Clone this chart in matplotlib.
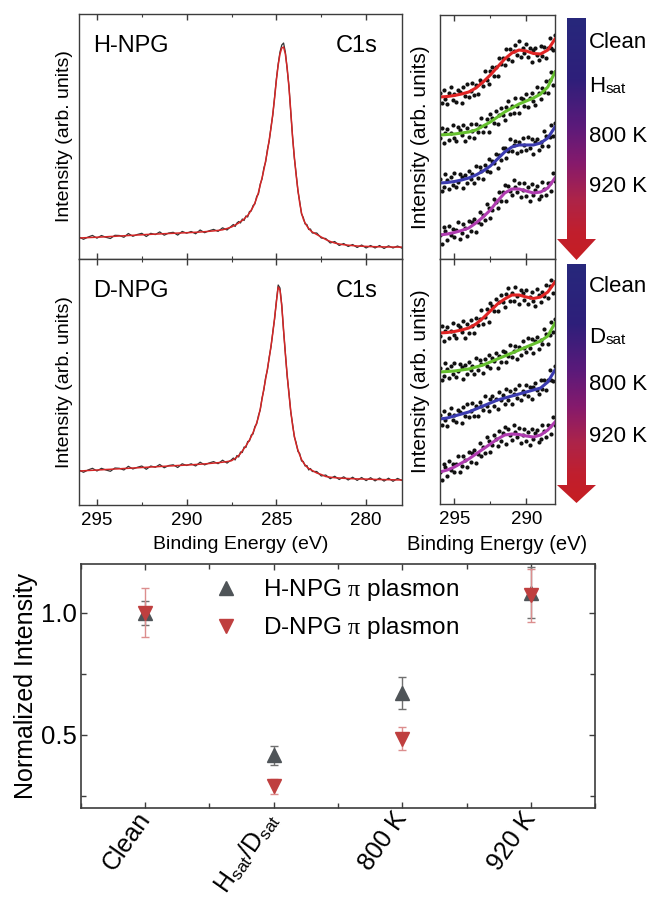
import numpy as np
import matplotlib
matplotlib.use('Agg')
import matplotlib.pyplot as plt
from matplotlib.colors import LinearSegmentedColormap
from matplotlib.patches import Polygon
from matplotlib.ticker import MultipleLocator

plt.rcParams['font.family'] = ['Liberation Sans', 'DejaVu Sans']
plt.rcParams['mathtext.fontset'] = 'custom'
plt.rcParams['mathtext.rm'] = 'Liberation Serif'
plt.rcParams['mathtext.it'] = 'Liberation Serif:italic'
plt.rcParams['mathtext.sf'] = 'Liberation Sans'

# ---------------- C1s spectra (arb. units) ----------------
be_c1s = np.concatenate([np.linspace(296.0, 287.5, 35),
                         np.linspace(287.4, 283.0, 45),
                         np.linspace(282.75, 278.0, 20)])

h_c1s_fit = [21, 21.2, 21.4, 21.6, 21.8, 22, 22.2, 22.5, 22.7, 23,
             23.2, 23.5, 23.7, 24, 24.2, 24.5, 24.7, 24.9, 25.1, 25.3,
             25.5, 25.7, 25.9, 26.1, 26.3, 26.5, 26.7, 27, 27.3, 27.7,
             28.1, 28.6, 29.2, 30.5, 32,
             33, 34, 35, 36, 37.5, 38.5, 40, 42, 43.5, 46,
             49, 52, 56, 61, 66.5, 74, 81, 89, 98, 108,
             119, 131, 145, 161, 179, 194, 205, 211, 212, 205,
             191, 172, 148, 122, 102, 84, 69, 56, 46, 40,
             36, 33, 30.5, 28.5, 27,
             24.5, 22, 19.5, 17.5, 16, 15, 14.3, 13.8, 13.4, 13,
             12.8, 12.6, 12.4, 12.3, 12.2, 12.1, 12, 12, 11.9, 11.9]
h_c1s_data = [22, 19.7, 21.9, 23.6, 20.8, 23.5, 21.7, 20.5, 23.7, 23.5,
              21.7, 25.5, 22.7, 24.5, 25.7, 22.5, 25.7, 24.4, 27.1, 23.8,
              26, 26.7, 23.9, 27.6, 25.8, 27.5, 25.2, 29, 26.3, 28.2,
              29.6, 27.6, 31.2, 29, 33,
              34.5, 32.5, 36, 37.5, 36, 40, 38.5, 43, 42, 47.5,
              48, 53.5, 55, 62.5, 65, 75, 80, 91, 97, 109.5,
              118, 132, 144, 162, 180, 195, 207, 214, 216, 207,
              190, 173, 147, 123, 101, 85.5, 68, 57.5, 45, 41.5,
              35, 34.5, 29.5, 30, 26,
              26, 21, 20.5, 16, 17.5, 13.5, 15.5, 12.5, 14.5, 11.5,
              14, 11, 13.5, 11, 13.5, 10.5, 13.2, 11, 13, 10.8]
d_c1s_fit = [34, 34.2, 34.5, 34.7, 35, 35.2, 35.5, 35.7, 36, 36.2,
             36.5, 36.7, 37, 37.2, 37.5, 37.7, 38, 38.2, 38.5, 38.7,
             39, 39.2, 39.5, 39.7, 40, 40.2, 40.5, 40.8, 41.1, 41.5,
             41.9, 42.3, 42.8, 43.4, 44.3,
             45.5, 46.5, 48, 49.5, 51.5, 54, 56.5, 59, 62, 65,
             68.5, 72.5, 77, 82, 88, 96, 106, 116, 126, 136,
             147, 159, 172, 187, 203, 218, 215, 199, 175, 151,
             130, 111, 94, 80, 69, 61, 55, 50, 45.5, 42.5,
             40, 38, 36.5, 35.5, 34.5,
             32, 30.5, 28.5, 27.8, 27.3, 27, 26.7, 26.5, 26.3, 26.1,
             26, 25.9, 25.8, 25.6, 25.5, 25.4, 25.3, 25.2, 25.1, 25]
d_c1s_data = [35, 32.7, 35, 36.7, 34, 36.7, 35, 33.7, 37, 36.7,
              35, 38.7, 36, 37.7, 39, 35.7, 39, 37.7, 40.5, 37.2,
              39.5, 40.2, 37.5, 41.2, 39.5, 41.2, 39, 42.8, 40.1, 42,
              43.4, 41.3, 44.8, 41.9, 45.3,
              47, 45, 49.5, 48, 53, 52.5, 58, 57.5, 63.5, 64,
              70, 71, 78.5, 81, 89.5, 95, 107, 115, 127.5, 135,
              148, 158, 173, 186, 204, 220, 217, 200, 174, 152,
              129, 112.5, 93, 81.5, 68, 62.5, 53.5, 51.5, 44, 43.5,
              39, 39.5, 35, 36.5, 33.5,
              33.5, 29, 30, 26.3, 28.8, 25.5, 28.2, 25, 27.8, 24.6,
              27.5, 24.4, 27.3, 24.1, 27, 23.9, 26.8, 23.7, 26.6, 24.5]

# ---------------- pi plasmon region ----------------
be_fit = np.linspace(296, 288, 17)
be_dot = np.linspace(296, 288, 65)

h_fits = {
    'Clean': [162, 162.5, 163.5, 165, 167, 171, 177, 184, 192, 200, 206, 209, 208, 205.5, 205, 209, 220],
    'sat':   [124, 124.5, 125, 126, 127, 129, 133, 137, 142, 147, 151, 155, 158, 161, 165, 172, 187],
    '800 K': [76, 76.5, 77.5, 79, 81, 84, 88, 93, 100, 107, 112, 114, 114, 114, 116, 121, 132],
    '920 K': [24, 25, 26.5, 28.5, 31, 36, 42, 49, 58, 66, 70, 70, 68, 66, 67, 71, 81],
}
h_dots = {
    'Clean': [166, 156, 169, 160, 155, 166, 172, 159, 165, 157, 169, 167, 156, 172, 163, 175, 162, 168, 176, 164,
              174, 165, 179, 177, 173, 188, 179, 175, 188, 192, 183, 192, 183, 201, 195, 201, 194, 210, 200, 210,
              198, 208, 214, 204, 218, 202, 211, 206, 215, 202, 211, 197, 209, 211, 204, 199, 213, 203, 212, 201,
              211, 221, 211, 209, 224],
    'sat':   [121, 131, 116, 126, 130, 119, 126, 134, 121, 118, 132, 129, 124, 134, 118, 131, 122, 135, 128, 121,
              135, 127, 133, 141, 127, 133, 140, 127, 145, 141, 136, 148, 135, 144, 151, 144, 139, 152, 158, 145,
              153, 146, 161, 153, 146, 161, 160, 153, 165, 152, 161, 166, 158, 154, 172, 166, 160, 171, 167, 178,
              166, 179, 187, 174, 187],
    '800 K': [80, 68, 72, 85, 79, 70, 82, 74, 86, 72, 77, 85, 82, 71, 84, 76, 88, 80, 85, 76,
              93, 81, 92, 88, 80, 94, 88, 100, 87, 98, 96, 105, 91, 104, 99, 111, 111, 101, 108, 120,
              108, 114, 118, 106, 117, 108, 121, 114, 109, 122, 111, 120, 105, 117, 120, 109, 117, 113, 128, 123,
              113, 122, 134, 123, 136],
    '920 K': [24, 15, 32, 28, 19, 33, 24, 30, 22, 29, 37, 20, 26, 35, 31, 23, 38, 28, 37, 40,
              27, 37, 47, 35, 44, 39, 55, 51, 41, 49, 60, 57, 51, 67, 58, 67, 74, 58, 73, 68,
              64, 79, 72, 67, 76, 62, 69, 76, 63, 72, 58, 75, 64, 69, 73, 60, 63, 77, 70, 64,
              76, 76, 68, 86, 78],
}
d_fits = {
    'Clean': [171, 171.5, 172.5, 174, 176, 180, 186, 193, 200, 205, 209, 209, 207, 205.5, 207, 212, 222],
    'sat':   [132, 132.5, 133, 134, 135, 137, 139, 142, 145, 148, 151, 154, 157, 160, 163, 168, 181],
    '800 K': [85, 86, 88, 90, 92, 95, 98, 101, 104, 106, 108, 110, 112, 114, 116, 122, 134],
    '920 K': [32, 34, 37, 41, 45, 50, 55, 60, 65, 69, 70, 69.5, 68, 67, 69, 74, 82],
}
d_dots = {
    'Clean': [168, 178, 163, 173, 177, 166, 173, 181, 169, 166, 179, 177, 172, 183, 166, 180, 171, 184, 178, 171,
              186, 179, 185, 194, 180, 187, 195, 182, 201, 198, 193, 205, 193, 202, 209, 202, 197, 210, 216, 203,
              211, 203, 217, 208, 200, 214, 211, 204, 214, 200, 207, 212, 203, 198, 215, 209, 202, 212, 208, 219,
              206, 218, 224, 211, 222],
    'sat':   [136, 124, 128, 141, 135, 126, 138, 130, 141, 127, 133, 140, 137, 125, 139, 130, 142, 134, 138, 130,
              146, 134, 144, 140, 131, 145, 138, 149, 136, 146, 143, 151, 136, 148, 142, 153, 152, 142, 148, 159,
              147, 153, 158, 145, 157, 149, 163, 156, 152, 166, 156, 165, 151, 163, 167, 155, 164, 160, 175, 170,
              160, 169, 182, 172, 185],
    '800 K': [89, 79, 93, 84, 78, 90, 96, 84, 89, 82, 94, 92, 81, 97, 88, 100, 87, 93, 101, 88,
              98, 88, 102, 98, 94, 108, 98, 93, 105, 108, 98, 105, 95, 112, 104, 109, 100, 115, 104, 113,
              100, 110, 115, 106, 119, 104, 113, 110, 119, 108, 117, 105, 117, 121, 114, 110, 124, 115, 124, 114,
              124, 134, 124, 123, 138],
    '920 K': [32, 24, 40, 37, 28, 43, 34, 40, 32, 40, 48, 32, 38, 48, 44, 37, 52, 42, 51, 54,
              41, 50, 61, 48, 57, 51, 67, 63, 52, 59, 69, 65, 58, 73, 63, 71, 77, 60, 75, 69,
              64, 79, 72, 67, 76, 61, 69, 75, 63, 72, 59, 75, 65, 71, 74, 62, 65, 79, 73, 67,
              79, 78, 70, 87, 79],
}
trace_colors = {'Clean': '#e02424', 'sat': '#66c02e', '800 K': '#3b3bb0', '920 K': '#b03cb0'}

# ---------------- normalized intensity ----------------
categories = ['Clean', 'H$_{\\mathsf{sat}}$/D$_{\\mathsf{sat}}$', '800 K', '920 K']
h_vals = [1.0, 0.415, 0.67, 1.082]
h_err = [0.05, 0.04, 0.065, 0.105]
d_vals = [1.0, 0.287, 0.483, 1.072]
d_err = [0.10, 0.03, 0.048, 0.108]

W, H = 656, 897
fig = plt.figure(figsize=(W / 100, H / 100), dpi=100)


def px_axes(l, t, r, b):
    return fig.add_axes([l / W, 1 - b / H, (r - l) / W, (b - t) / H])


spine_col = '#3c3c3c'


def style_spec(ax, major, minor, labels):
    for s in ax.spines.values():
        s.set_color(spine_col)
        s.set_linewidth(1.0)
    ax.set_yticks([])
    ax.xaxis.set_major_locator(MultipleLocator(major))
    ax.xaxis.set_minor_locator(MultipleLocator(minor))
    ax.tick_params(axis='x', which='both', direction='in', top=True, bottom=True,
                   color=spine_col, labelbottom=labels, labelsize=13.5, pad=5)
    ax.tick_params(axis='x', which='major', length=4, width=1)
    ax.tick_params(axis='x', which='minor', length=2.5, width=0.8)


# C1s panels
ax_tl = px_axes(79, 14, 402, 259)
ax_bl = px_axes(79, 259, 402, 505)
for ax, fit, data, ymax, name in [(ax_tl, h_c1s_fit, h_c1s_data, 245, 'H-NPG'),
                                  (ax_bl, d_c1s_fit, d_c1s_data, 246, 'D-NPG')]:
    ax.plot(be_c1s, data, color='#333333', lw=0.9)
    ax.plot(be_c1s, fit, color='#d42626', lw=1.1)
    ax.set_xlim(296, 278)
    ax.set_ylim(0, ymax)
    ax.set_ylabel('Intensity (arb. units)', fontsize=14, labelpad=4)
    ax.text(0.043, 0.845, name, transform=ax.transAxes, fontsize=17, va='baseline', ha='left')
    ax.text(0.923, 0.845, 'C1s', transform=ax.transAxes, fontsize=17, va='baseline', ha='right')
style_spec(ax_tl, 5, 2.5, False)
style_spec(ax_bl, 5, 2.5, True)
ax_bl.set_xlabel('Binding Energy (eV)', fontsize=14, labelpad=5)

# plasmon panels
ax_tr = px_axes(440, 15, 555, 259)
ax_br = px_axes(440, 259, 555, 504)
for ax, fits, dots, ymax in [(ax_tr, h_fits, h_dots, 244), (ax_br, d_fits, d_dots, 245)]:
    for key in ['Clean', 'sat', '800 K', '920 K']:
        ax.plot(be_dot, dots[key], 'o', color='#111111', ms=3.0, mew=0)
        ax.plot(be_fit, fits[key], color=trace_colors[key], lw=2.2)
    ax.set_xlim(296, 288)
    ax.set_ylim(0, ymax)
    ax.set_ylabel('Intensity (arb. units)', fontsize=15, labelpad=7)
style_spec(ax_tr, 5, 2.5, False)
style_spec(ax_br, 5, 2.5, True)
ax_br.set_xlabel('Binding Energy (eV)', fontsize=14.5, labelpad=5)

# overlay for gradient arrows and labels
ov = fig.add_axes([0, 0, 1, 1], zorder=10)
ov.set_xlim(0, W)
ov.set_ylim(H, 0)
ov.axis('off')
cmap = LinearSegmentedColormap.from_list('arr', [(0.0, '#27287c'), (0.25, '#2e1f7a'), (0.45, '#5c1a7a'),
                                                 (0.6, '#861a6c'), (0.75, '#ad2449'), (0.88, '#c01f2e'),
                                                 (1.0, '#c61e22')])
grad = np.linspace(0, 1, 256).reshape(-1, 1)
for top, head, tip in [(18, 239, 260), (264, 485, 503)]:
    pts = [(567, top), (586, top), (586, head), (596, head), (576.5, tip), (557, head), (567, head)]
    poly = Polygon(pts, closed=True, fill=False, edgecolor='none', transform=ov.transData)
    ov.add_patch(poly)
    im = ov.imshow(grad, cmap=cmap, extent=[557, 596, tip, top], aspect='auto', origin='upper')
    im.set_clip_path(poly)
ov.set_xlim(0, W)
ov.set_ylim(H, 0)

for baselines, sym in [((48, 92, 142, 192), 'H'), ((292, 343, 390, 442), 'D')]:
    ov.text(589, baselines[0], 'Clean', fontsize=16, va='baseline', ha='left')
    t = ov.text(589, baselines[1], sym, fontsize=16, va='baseline', ha='left')
    ov.annotate('sat', xy=(1, 0), xycoords=t, xytext=(0.5, 1), textcoords='offset points',
                fontsize=11, va='bottom', ha='left')
    ov.text(589, baselines[2], '800 K', fontsize=16, va='baseline', ha='left')
    ov.text(589, baselines[3], '920 K', fontsize=16, va='baseline', ha='left')

# normalized intensity panel
axb = px_axes(80.7, 564, 595.3, 807.7)
xpos = np.arange(len(categories))
axb.errorbar(xpos, h_vals, yerr=h_err, fmt='none', ecolor='#707070', elinewidth=1.0, capsize=3, capthick=1.0)
axb.plot(xpos, h_vals, linestyle='none', marker='^', ms=10.5, color='#4f5458', label='H-NPG $\\mathrm{\\pi}$ plasmon')
axb.errorbar(xpos, d_vals, yerr=d_err, fmt='none', ecolor='#dc8e8e', elinewidth=1.0, capsize=3, capthick=1.0)
axb.plot(xpos, d_vals, linestyle='none', marker='v', ms=10.5, color='#bf3f3f', label='D-NPG $\\mathrm{\\pi}$ plasmon')
axb.set_xlim(-0.5, 3.5)
axb.set_ylim(0.2, 1.2)
axb.set_xticks(xpos)
axb.set_xticklabels(categories, rotation=55, ha='right', va='center', rotation_mode='anchor', fontsize=18)
axb.xaxis.set_minor_locator(MultipleLocator(0.5))
axb.yaxis.set_major_locator(MultipleLocator(0.5))
axb.yaxis.set_minor_locator(MultipleLocator(0.25))
axb.tick_params(which='both', direction='in', top=True, right=True, color=spine_col, width=1)
axb.tick_params(which='major', length=4)
axb.tick_params(which='minor', length=3.5)
axb.tick_params(axis='y', labelsize=18.5, pad=2.7)
axb.tick_params(axis='x', pad=5)
for s in axb.spines.values():
    s.set_color(spine_col)
    s.set_linewidth(1.2)
axb.set_ylabel('Normalized Intensity', fontsize=18, labelpad=2.5)
axb.legend(loc='upper left', bbox_to_anchor=(0.207, 1.035), frameon=False, fontsize=17.5,
           handlelength=1.4, handletextpad=0.8, labelspacing=0.5, borderpad=0.4)

fig.savefig('out.png', dpi=100)
